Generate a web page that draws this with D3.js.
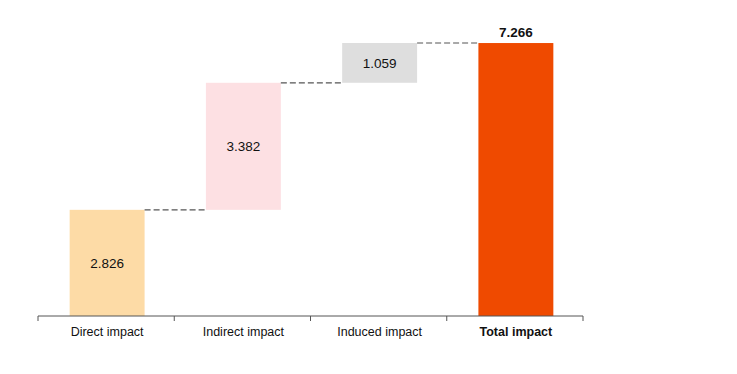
<!DOCTYPE html>
<html>
<head>
<meta charset="utf-8">
<script src="https://cdn.jsdelivr.net/npm/d3@7"></script>
<style>
  body { margin: 0; background: #fff; }
  svg { display: block; font-family: "Liberation Sans", Arial, sans-serif; }
</style>
</head>
<body>
<svg width="737" height="374"></svg>
<script>
var categories = ["Direct impact", "Indirect impact", "Induced impact", "Total impact"];
var values = [2.826, 3.382, 1.059, 7.266];
var isTotal = [false, false, false, true];
var colors = ["#fddba6", "#fde0e3", "#dedede", "#ef4a00"];

var svg = d3.select("svg"),
    margin = {top: 43, right: 154, bottom: 58, left: 38},
    width = +svg.attr("width") - margin.left - margin.right,
    height = +svg.attr("height") - margin.top - margin.bottom,
    g = svg.append("g").attr("transform", "translate(" + margin.left + "," + margin.top + ")");

// running totals for waterfall
var run = 0;
var data = categories.map(function(c, i) {
  var start = isTotal[i] ? 0 : run;
  var end = isTotal[i] ? values[i] : run + values[i];
  if (!isTotal[i]) run = end;
  return {name: c, value: values[i], start: start, end: end, total: isTotal[i], color: colors[i]};
});

var x = d3.scaleBand().domain(categories).range([0, width]).paddingInner(0.45).paddingOuter(0.225);
var y = d3.scaleLinear().domain([0, d3.max(data, function(d) { return d.end; })]).range([height, 0]);

g.selectAll("rect.bar")
  .data(data)
  .enter().append("rect")
  .attr("class", "bar")
  .attr("x", function(d) { return x(d.name) + 1; })
  .attr("width", x.bandwidth())
  .attr("y", function(d) { return y(d.end); })
  .attr("height", function(d) { return y(d.start) - y(d.end); })
  .attr("fill", function(d) { return d.color; });

// dashed connectors
g.selectAll("line.conn")
  .data(data.slice(0, -1))
  .enter().append("line")
  .attr("class", "conn")
  .attr("x1", function(d) { return x(d.name) + x.bandwidth() + 1; })
  .attr("x2", function(d, i) { return x(categories[i + 1]) + 1; })
  .attr("y1", function(d) { return y(d.end); })
  .attr("y2", function(d) { return y(d.end); })
  .attr("stroke", "#555")
  .attr("stroke-width", 1.2)
  .attr("stroke-dasharray", "6,3");

// value labels
g.selectAll("text.val")
  .data(data)
  .enter().append("text")
  .attr("class", "val")
  .attr("x", function(d) { return x(d.name) + x.bandwidth() / 2 + 1; })
  .attr("y", function(d) { return d.total ? y(d.end) - 6 : (y(d.start) + y(d.end)) / 2 + 5; })
  .attr("text-anchor", "middle")
  .attr("font-size", 13.5)
  .attr("font-weight", function(d) { return d.total ? "bold" : "normal"; })
  .attr("fill", "#111")
  .text(function(d) { return d3.format(".3f")(d.value); });

// x axis with tick marks at band boundaries
var axis = g.append("g").attr("transform", "translate(0," + height + ")");
axis.append("line")
  .attr("x1", 0).attr("x2", width)
  .attr("stroke", "#555").attr("stroke-width", 1);
var bounds = d3.range(categories.length + 1).map(function(i) { return i * x.step(); });
axis.selectAll("line.tick")
  .data(bounds)
  .enter().append("line")
  .attr("class", "tick")
  .attr("x1", function(d) { return d; }).attr("x2", function(d) { return d; })
  .attr("y1", 0).attr("y2", 5)
  .attr("stroke", "#555");
axis.selectAll("text")
  .data(data)
  .enter().append("text")
  .attr("x", function(d) { return x(d.name) + x.bandwidth() / 2 + 1; })
  .attr("y", 20)
  .attr("text-anchor", "middle")
  .attr("font-size", 12.5)
  .attr("font-weight", function(d) { return d.total ? "bold" : "normal"; })
  .attr("fill", "#111")
  .text(function(d) { return d.name; });
</script>
</body>
</html>
